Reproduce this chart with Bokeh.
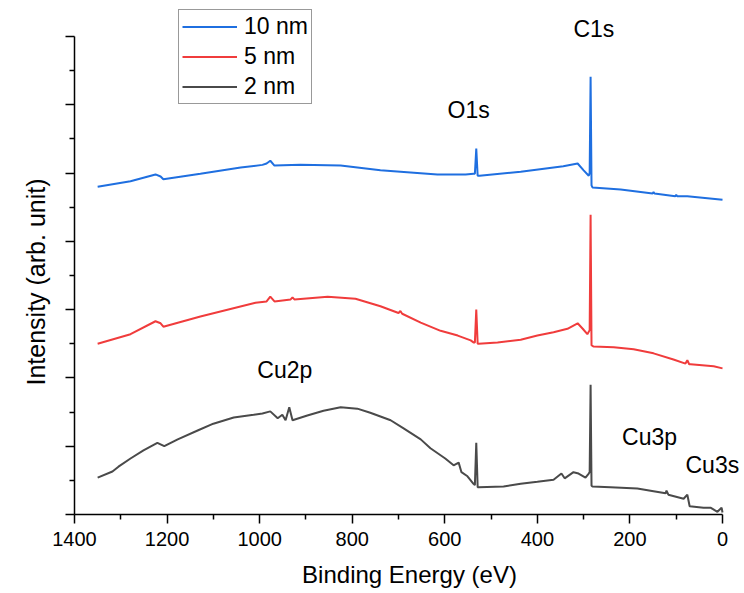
from bokeh.plotting import figure
from bokeh.models import Range1d, FixedTicker, Label, Legend, LegendItem, Title
from bokeh.embed import file_html
from bokeh.resources import INLINE

# ---- data (binding energy in eV, intensity in arb. units, stacked) ----
energy_10nm = [1350, 1279, 1225, 1214, 1208, 1128, 1041, 994, 985, 977, 968, 912, 825, 739, 674,
               616, 555, 538, 535, 532, 529, 525, 436, 344, 313, 300, 289, 287, 285, 283, 281,
               220, 151, 149, 147, 102, 100, 98, 76, 0]
intensity_10nm = [4.80, 4.88, 4.98, 4.95, 4.91, 4.99, 5.08, 5.12, 5.14, 5.18, 5.11, 5.12, 5.11, 5.04, 5.01,
                  4.98, 4.98, 4.99, 4.99, 5.36, 4.96, 4.96, 5.02, 5.10, 5.14, 5.04, 4.96, 5.00, 6.41, 4.82, 4.79,
                  4.76, 4.70, 4.72, 4.70, 4.66, 4.68, 4.66, 4.66, 4.61]

energy_5nm = [1350, 1279, 1225, 1214, 1208, 1128, 1009, 985, 977, 968, 933, 929, 925, 853, 793,
              739, 700, 696, 692, 652, 609, 572, 544, 538, 535, 532, 529, 527, 486, 436, 400,
              365, 335, 313, 302, 292, 287, 285, 283, 279, 235, 192, 149, 106, 80, 76, 72, 69, 19, 0]
intensity_5nm = [2.50, 2.64, 2.83, 2.80, 2.75, 2.90, 3.10, 3.12, 3.19, 3.12, 3.15, 3.18, 3.15, 3.19, 3.16,
                 3.05, 2.95, 2.98, 2.94, 2.81, 2.69, 2.62, 2.55, 2.52, 2.52, 3.00, 2.50, 2.50, 2.52, 2.56, 2.62,
                 2.67, 2.72, 2.80, 2.72, 2.64, 2.70, 4.39, 2.48, 2.46, 2.45, 2.42, 2.36, 2.27, 2.21, 2.26, 2.20, 2.20, 2.17, 2.14]

energy_2nm = [1350, 1318, 1305, 1279, 1251, 1221, 1206, 1177, 1134, 1100, 1056, 1013, 994, 977, 961,
              951, 944, 936, 929, 897, 862, 825, 789, 761, 717, 689, 652, 631, 599, 581, 570,
              564, 551, 538, 535, 532, 529, 527, 473, 436, 400, 365, 348, 341, 322, 311, 296,
              289, 287, 285, 283, 281, 242, 184, 149, 123, 121, 117, 84, 76, 71, 41, 26, 11, 2, 0]
intensity_2nm = [0.54, 0.63, 0.70, 0.82, 0.94, 1.05, 1.00, 1.10, 1.23, 1.33, 1.42, 1.46, 1.48, 1.51, 1.41,
                 1.46, 1.38, 1.57, 1.38, 1.45, 1.52, 1.57, 1.55, 1.49, 1.38, 1.26, 1.10, 0.97, 0.82, 0.72, 0.76,
                 0.62, 0.56, 0.45, 0.43, 1.05, 0.40, 0.40, 0.41, 0.45, 0.48, 0.51, 0.60, 0.53, 0.62, 0.60, 0.54,
                 0.60, 0.62, 1.90, 0.42, 0.41, 0.40, 0.38, 0.34, 0.31, 0.35, 0.29, 0.23, 0.29, 0.12, 0.10, 0.10, 0.04, 0.10, 0.03]

series_names = ["10 nm", "5 nm", "2 nm"]

peak_names = ["C1s", "O1s", "Cu2p", "Cu3p", "Cu3s"]
peak_label_x = [322, 594, 1005, 217, 80]
peak_label_y = [7.11, 5.93, 2.11, 1.13, 0.73]

x_ticks = [0, 200, 400, 600, 800, 1000, 1200, 1400]
x_minor = [100, 300, 500, 700, 900, 1100, 1300]
y_ticks = [0, 1, 2, 3, 4, 5, 6, 7]
y_minor = [0.5, 1.5, 2.5, 3.5, 4.5, 5.5, 6.5]

FONT = "Liberation Sans"
colors = ["#1f6fe0", "#f03c3c", "#4a4a4a"]

# frame runs to the top/right edges so the legend and labels are not clipped;
# the axes themselves are bounded to 0..1400 eV and 0..7
p = figure(width=744, height=593, x_range=Range1d(1400, -47.5), y_range=Range1d(0, 7.527),
           output_backend="svg", toolbar_location=None,
           min_border_left=74, min_border_right=0, min_border_top=0, min_border_bottom=79)
p.outline_line_color = None
p.grid.visible = False
p.background_fill_color = "white"
p.border_fill_color = "white"

renderers = []
for xs, ys, c in [(energy_10nm, intensity_10nm, colors[0]),
                  (energy_5nm, intensity_5nm, colors[1]),
                  (energy_2nm, intensity_2nm, colors[2])]:
    r = p.line(xs, ys, line_color=c, line_width=2)
    renderers.append(r)

for ax in (p.xaxis, p.yaxis):
    ax.axis_line_width = 1.5
    ax.axis_line_color = "black"
    ax.major_tick_line_width = 1.5
    ax.minor_tick_line_width = 1.5
    ax.major_tick_in = 0
    ax.minor_tick_in = 0
    ax.major_tick_out = 9
    ax.minor_tick_out = 5
    ax.axis_label_text_font = FONT
    ax.axis_label_text_font_style = "normal"
    ax.axis_label_text_font_size = "24px"
    ax.axis_label_text_color = "black"
    ax.major_label_text_font = FONT
    ax.major_label_text_color = "black"

p.xaxis.bounds = (0, 1400)
p.yaxis.bounds = (0, 7)
p.xaxis.ticker = FixedTicker(ticks=x_ticks, minor_ticks=x_minor)
p.yaxis.ticker = FixedTicker(ticks=y_ticks, minor_ticks=y_minor)
p.xaxis.major_label_text_font_size = "20px"
p.xaxis.major_label_standoff = 8
p.xaxis.axis_label = "Binding Energy (eV)"
p.xaxis.axis_label_standoff = 12
p.yaxis.major_label_overrides = {t: "" for t in y_ticks}
p.yaxis.major_label_standoff = 0

# y-axis title, placed along the bounded axis (0..7) rather than the taller frame
ytitle = Title(text="Intensity (arb. unit)", align="left", offset=129, standoff=32,
               text_font=FONT, text_font_size="25px", text_font_style="normal", text_color="black")
p.add_layout(ytitle, "left")

legend = Legend(items=[LegendItem(label=n, renderers=[r]) for n, r in zip(series_names, renderers)],
                location=(104, 410), orientation="vertical",
                label_text_font=FONT, label_text_font_size="23px", label_text_color="black",
                glyph_width=55, glyph_height=25, label_height=25, label_standoff=7,
                spacing=3, padding=3, margin=0,
                border_line_color="#333333", border_line_width=1,
                background_fill_color="white", background_fill_alpha=1.0)
p.add_layout(legend, "center")

for name, lx, ly in zip(peak_names, peak_label_x, peak_label_y):
    p.add_layout(Label(x=lx, y=ly, text=name, text_font=FONT, text_font_size="23px",
                       text_color="black", text_align="left", text_baseline="alphabetic"))

open("out.html", "w").write(file_html(p, INLINE))
